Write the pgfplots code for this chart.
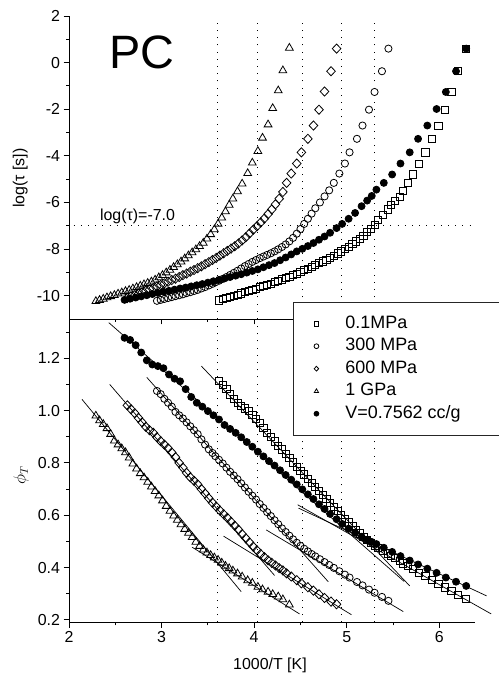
\documentclass[border=0pt]{standalone}
\usepackage{fontspec}
\setmainfont{Liberation Sans}
\usepackage{pgfplots}
\usepackage{pgfplotstable}
\pgfplotsset{compat=1.18}

% columns: 1000/T, log(tau), phi_T
\pgfplotstableread{
x tau phi
2.29 -10.24 0.980
2.33 -10.19 0.962
2.37 -10.14 0.948
2.41 -10.08 0.932
2.45 -10.03 0.910
2.49 -9.98 0.885
2.53 -9.92 0.870
2.57 -9.87 0.855
2.61 -9.81 0.840
2.65 -9.76 0.820
2.69 -9.70 0.797
2.73 -9.64 0.778
2.77 -9.58 0.760
2.81 -9.52 0.744
2.85 -9.46 0.727
2.89 -9.40 0.709
2.93 -9.32 0.692
2.97 -9.22 0.675
3.01 -9.12 0.656
3.05 -9.01 0.635
3.09 -8.90 0.616
3.13 -8.78 0.598
3.17 -8.66 0.582
3.21 -8.54 0.565
3.25 -8.41 0.547
3.29 -8.28 0.532
3.33 -8.15 0.516
3.37 -8.02 0.498
3.41 -7.88 0.482
3.45 -7.74 0.468
3.49 -7.56 0.457
3.53 -7.37 0.447
3.57 -7.16 0.438
3.61 -6.92 0.429
3.65 -6.66 0.418
3.69 -6.39 0.406
3.73 -6.11 0.397
3.77 -5.84 0.388
3.82 -5.53 0.377
3.87 -5.20 0.365
3.93 -4.75 0.351
3.98 -4.30 0.341
4.04 -3.80 0.326
4.09 -3.23 0.316
4.15 -2.66 0.307
4.20 -1.96 0.298
4.26 -1.20 0.289
4.31 -0.34 0.278
4.38 0.63 0.258
}\gpaone

\pgfplotstableread{
x tau phi
2.63 -10.10 1.020
2.67 -10.04 1.005
2.71 -9.98 0.990
2.75 -9.92 0.972
2.79 -9.86 0.955
2.83 -9.79 0.938
2.87 -9.73 0.925
2.91 -9.67 0.915
2.95 -9.60 0.898
2.99 -9.54 0.883
3.03 -9.47 0.870
3.07 -9.40 0.856
3.11 -9.33 0.840
3.15 -9.27 0.822
3.19 -9.20 0.800
3.23 -9.12 0.782
3.27 -9.05 0.762
3.31 -8.97 0.745
3.35 -8.90 0.732
3.39 -8.82 0.718
3.43 -8.74 0.700
3.47 -8.65 0.683
3.51 -8.56 0.665
3.55 -8.47 0.648
3.59 -8.38 0.633
3.63 -8.28 0.618
3.67 -8.18 0.604
3.71 -8.08 0.590
3.75 -7.98 0.575
3.79 -7.88 0.560
3.83 -7.76 0.545
3.87 -7.63 0.528
3.91 -7.49 0.512
3.95 -7.33 0.496
3.99 -7.17 0.480
4.03 -7.02 0.466
4.07 -6.86 0.452
4.11 -6.69 0.440
4.15 -6.50 0.428
4.19 -6.30 0.418
4.23 -6.08 0.408
4.27 -5.84 0.398
4.31 -5.55 0.389
4.35 -5.16 0.378
4.40 -4.76 0.366
4.46 -4.33 0.352
4.51 -3.85 0.340
4.58 -3.27 0.325
4.64 -2.70 0.312
4.70 -2.02 0.298
4.76 -1.24 0.284
4.83 -0.37 0.270
4.89 0.60 0.260
}\mpasix

\pgfplotstableread{
x tau phi
2.95 -10.22 1.075
2.99 -10.18 1.063
3.03 -10.14 1.045
3.07 -10.10 1.030
3.11 -10.06 1.015
3.15 -10.02 0.995
3.19 -9.98 0.982
3.23 -9.94 0.970
3.27 -9.89 0.955
3.31 -9.85 0.940
3.35 -9.80 0.925
3.39 -9.75 0.910
3.43 -9.69 0.890
3.47 -9.63 0.870
3.51 -9.56 0.852
3.55 -9.49 0.838
3.58 -9.43 0.826
3.62 -9.36 0.812
3.66 -9.28 0.798
3.70 -9.20 0.782
3.74 -9.11 0.766
3.78 -9.02 0.752
3.82 -8.93 0.738
3.86 -8.83 0.722
3.90 -8.73 0.706
3.94 -8.64 0.690
3.98 -8.55 0.675
4.02 -8.47 0.660
4.06 -8.39 0.643
4.10 -8.32 0.628
4.14 -8.25 0.612
4.18 -8.18 0.597
4.22 -8.10 0.581
4.26 -8.01 0.566
4.30 -7.91 0.550
4.34 -7.80 0.536
4.38 -7.67 0.522
4.42 -7.52 0.508
4.46 -7.34 0.495
4.50 -7.14 0.483
4.54 -6.92 0.472
4.58 -6.70 0.462
4.62 -6.48 0.452
4.66 -6.25 0.443
4.71 -6.00 0.432
4.76 -5.74 0.421
4.81 -5.48 0.410
4.86 -5.16 0.399
4.92 -4.76 0.386
4.98 -4.33 0.373
5.03 -3.85 0.362
5.11 -3.27 0.345
5.17 -2.70 0.332
5.24 -2.02 0.316
5.30 -1.26 0.304
5.38 -0.37 0.288
5.45 0.60 0.273
}\mpathree

\pgfplotstableread{
x tau phi
3.62 -10.20 1.112
3.66 -10.15 1.098
3.70 -10.10 1.082
3.74 -10.05 1.062
3.78 -10.00 1.044
3.82 -9.95 1.028
3.86 -9.90 1.018
3.90 -9.85 1.008
3.94 -9.80 0.998
3.98 -9.75 0.985
4.02 -9.70 0.968
4.06 -9.64 0.952
4.10 -9.59 0.935
4.14 -9.53 0.915
4.18 -9.48 0.898
4.22 -9.42 0.882
4.26 -9.36 0.866
4.30 -9.30 0.852
4.34 -9.24 0.836
4.38 -9.18 0.820
4.42 -9.11 0.802
4.46 -9.05 0.786
4.50 -8.98 0.771
4.54 -8.91 0.756
4.58 -8.84 0.740
4.62 -8.76 0.724
4.66 -8.69 0.708
4.70 -8.61 0.692
4.74 -8.53 0.677
4.78 -8.45 0.662
4.82 -8.37 0.647
4.86 -8.28 0.632
4.90 -8.19 0.617
4.94 -8.10 0.602
4.98 -8.00 0.587
5.02 -7.90 0.573
5.06 -7.79 0.559
5.10 -7.67 0.545
5.14 -7.55 0.531
5.18 -7.42 0.518
5.22 -7.28 0.506
5.26 -7.12 0.495
5.30 -6.95 0.485
5.34 -6.76 0.475
5.39 -6.52 0.465
5.44 -6.30 0.454
5.48 -6.12 0.445
5.52 -5.95 0.436
5.57 -5.75 0.425
5.61 -5.52 0.416
5.66 -5.16 0.406
5.71 -4.80 0.396
5.78 -4.33 0.381
5.85 -3.85 0.367
5.92 -3.27 0.352
5.99 -2.70 0.338
6.06 -2.02 0.324
6.13 -1.26 0.310
6.20 -0.37 0.296
6.29 0.60 0.280
}\mpazero

\pgfplotstableread{
x tau phi
2.60 -10.18 1.278
2.66 -10.13 1.270
2.72 -10.08 1.250
2.78 -10.03 1.222
2.84 -9.98 1.192
2.90 -9.93 1.176
2.96 -9.88 1.170
3.02 -9.83 1.162
3.08 -9.79 1.138
3.14 -9.74 1.122
3.20 -9.69 1.112
3.26 -9.65 1.082
3.32 -9.60 1.052
3.38 -9.55 1.030
3.44 -9.50 1.015
3.50 -9.44 0.998
3.56 -9.38 0.982
3.62 -9.32 0.966
3.68 -9.26 0.945
3.74 -9.20 0.930
3.80 -9.14 0.915
3.86 -9.08 0.898
3.92 -9.01 0.880
3.98 -8.94 0.862
4.04 -8.87 0.843
4.10 -8.78 0.825
4.16 -8.69 0.807
4.22 -8.60 0.790
4.28 -8.48 0.772
4.34 -8.36 0.754
4.40 -8.23 0.736
4.46 -8.10 0.718
4.52 -7.99 0.699
4.58 -7.87 0.680
4.64 -7.74 0.662
4.70 -7.60 0.642
4.76 -7.46 0.624
4.82 -7.30 0.605
4.89 -7.10 0.585
4.95 -6.92 0.567
5.02 -6.70 0.549
5.09 -6.45 0.533
5.16 -6.16 0.518
5.22 -5.92 0.506
5.27 -5.72 0.498
5.32 -5.45 0.490
5.40 -5.16 0.476
5.49 -4.80 0.460
5.58 -4.33 0.444
5.68 -3.85 0.427
5.77 -3.27 0.412
5.87 -2.70 0.396
5.97 -1.99 0.380
6.07 -1.26 0.362
6.18 -0.37 0.346
6.29 0.60 0.330
}\isochore

\pgfplotsset{
  panel/.style={
    scale only axis, width=406bp,
    xmin=2, xmax=6.385,
    axis lines=left, axis line style={-, line width=0.9bp},
    tick align=outside, major tick length=5.5bp, minor tick length=3bp,
    every tick/.style={black, line width=0.9bp},
    tick label style={font=\fontsize{16}{18}\selectfont},
    label style={font=\fontsize{16}{18}\selectfont},
    /pgf/number format/assume math mode=true,
    xtick={2,3,4,5,6}, minor xtick={2.5,3.5,4.5,5.5},
    clip=false,
  },
  sq/.style={only marks, mark=square, mark size=3.6bp, mark options={line width=0.8bp}},
  ci/.style={only marks, mark=o, mark size=3.6bp, mark options={line width=0.8bp}},
  di/.style={only marks, mark=diamond, mark size=4.6bp, mark options={line width=0.8bp, xscale=1.25}},
  tr/.style={only marks, mark=triangle, mark size=4.5bp, mark options={line width=0.8bp}},
  fi/.style={only marks, mark=*, mark size=3.5bp, mark options={line width=0.8bp}},
  dots/.style={black, line width=1bp, dash pattern=on 1bp off 6.2bp, forget plot},
  fit/.style={black, line width=0.7bp, forget plot},
}

\begin{document}
\begin{tikzpicture}
\useasboundingbox (0,0) rectangle (499bp,679bp);

% upper panel: relaxation time
\begin{axis}[panel, at={(69bp,360bp)}, anchor=south west, height=303bp,
  ymin=-11, ymax=2,
  ytick={-10,-8,-6,-4,-2,0,2}, minor ytick={-9,-7,-5,-3,-1,1},
  xticklabels={},
  ylabel={log(τ [s])},
  ylabel style={at={(axis description cs:-0.12,0.465)}, anchor=center},
]
\addplot[dots] coordinates {(2.05,-7)(6.33,-7)};
\addplot[dots] coordinates {(3.60,-11)(3.60,1.75)};
\addplot[dots] coordinates {(4.04,-11)(4.04,1.75)};
\addplot[dots] coordinates {(4.52,-11)(4.52,1.75)};
\addplot[dots] coordinates {(4.94,-11)(4.94,1.75)};
\addplot[dots] coordinates {(5.30,-11)(5.30,1.75)};
\addplot[sq] table[x=x,y=tau] {\mpazero};
\addplot[ci] table[x=x,y=tau] {\mpathree};
\addplot[di] table[x=x,y=tau] {\mpasix};
\addplot[tr] table[x=x,y=tau] {\gpaone};
\addplot[fi] table[x=x,y=tau] {\isochore};
\node[font=\fontsize{47}{50}\selectfont] at (axis cs:2.79,0.45) {PC};
\node[anchor=base, font=\fontsize{16}{18}\selectfont] at (axis cs:2.74,-6.77) {log(τ)=-7.0};
\end{axis}

% lower panel: fragility parameter
\begin{axis}[panel, at={(69bp,56.7bp)}, anchor=south west, height=303.3bp,
  ymin=0.191, ymax=1.35,
  ytick={0.2,0.4,0.6,0.8,1.0,1.2}, minor ytick={0.3,0.5,0.7,0.9,1.1,1.3},
  yticklabel style={/pgf/number format/fixed, /pgf/number format/fixed zerofill, /pgf/number format/precision=1},
  xlabel={1000/T [K]},
  ylabel={$\phi_T$},
  xlabel style={at={(axis description cs:0.495,-0.141)}, anchor=center},
  ylabel style={at={(axis description cs:-0.118,0.486)}, anchor=center},
  legend style={at={(axis description cs:0.5517,1.056)}, anchor=north west,
    draw=black!85, line width=0.9bp, fill=white,
    font=\fontsize{18}{20}\selectfont,
    inner xsep=0bp, inner ysep=11bp, row sep=2bp,
    nodes={inner sep=2bp, text height=13bp, text depth=3.5bp}},
  legend cell align=left,
  legend image code/.code={%
    \path[draw=none] (-23bp,0bp) -- (27bp,0bp);
    \draw[#1, mark size=2.4bp] plot coordinates {(0bp,0bp)};},
]
\addplot[dots] coordinates {(3.60,0.191)(3.60,1.35)};
\addplot[dots] coordinates {(4.04,0.191)(4.04,1.35)};
\addplot[dots] coordinates {(4.52,0.191)(4.52,1.35)};
\addplot[dots] coordinates {(4.94,0.191)(4.94,1.35)};
\addplot[dots] coordinates {(5.30,0.191)(5.30,1.35)};
\addplot[sq] table[x=x,y=phi] {\mpazero};
\addlegendentry{0.1MPa}
\addplot[ci] table[x=x,y=phi] {\mpathree};
\addlegendentry{300 MPa}
\addplot[di] table[x=x,y=phi] {\mpasix};
\addlegendentry{600 MPa}
\addplot[tr] table[x=x,y=phi] {\gpaone};
\addlegendentry{1 GPa}
\addplot[fi] table[x=x,y=phi] {\isochore};
\addlegendentry{V=0.7562 cc/g\hspace*{70bp}}
% straight-line fits, high and low temperature side
\addplot[fit] coordinates {(2.14,1.043)(3.86,0.308)};
\addplot[fit] coordinates {(3.33,0.478)(4.49,0.223)};
\addplot[fit] coordinates {(2.44,1.100)(4.22,0.370)};
\addplot[fit] coordinates {(3.67,0.520)(5.05,0.220)};
\addplot[fit] coordinates {(2.84,1.127)(4.80,0.346)};
\addplot[fit] coordinates {(4.13,0.544)(5.61,0.232)};
\addplot[fit] coordinates {(3.43,1.170)(5.68,0.330)};
\addplot[fit] coordinates {(4.47,0.640)(6.56,0.223)};
\addplot[fit] coordinates {(2.43,1.336)(5.62,0.347)};
\addplot[fit] coordinates {(4.48,0.627)(6.51,0.292)};
\end{axis}
\end{tikzpicture}
\end{document}
